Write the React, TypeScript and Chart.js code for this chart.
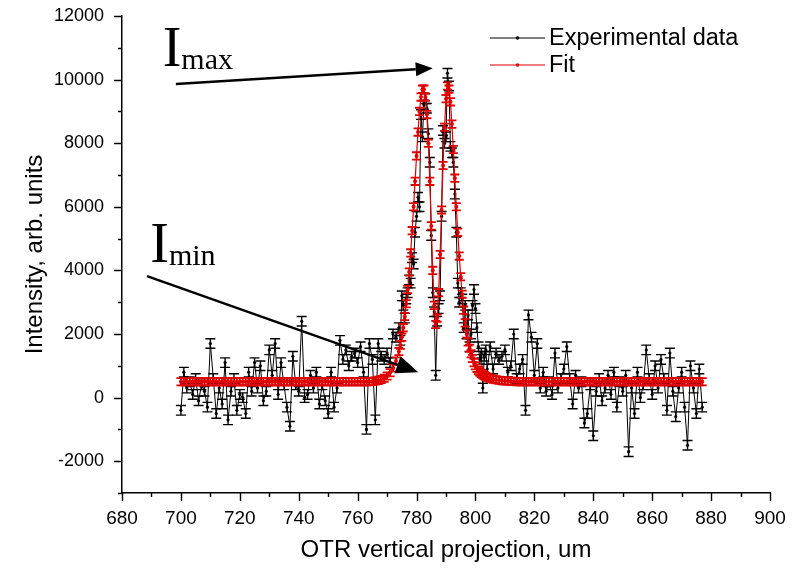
import { useEffect, useRef } from 'react';
import { Chart, registerables } from 'chart.js';
Chart.register(...registerables);

const SANS = '"Liberation Sans", Arial, sans-serif';
const SERIF = '"Liberation Serif", "Times New Roman", serif';

// x positions (um)
const xPositions = [
  700, 701, 702, 703, 704, 705, 706, 707, 708, 709,
  710, 711, 712, 713, 714, 715, 716, 717, 718, 719,
  720, 721, 722, 723, 724, 725, 726, 727, 728, 729,
  730, 731, 732, 733, 734, 735, 736, 737, 738, 739,
  740, 741, 742, 743, 744, 745, 746, 747, 748, 749,
  750, 751, 752, 753, 754, 755, 756, 757, 758, 759,
  760, 761, 762, 763, 764, 765, 766, 767, 768, 769,
  770, 771, 772, 773,
  774, 774.5, 775, 775.5, 776, 776.5, 777, 777.5, 778, 778.5,
  779, 779.5, 780, 780.5, 781, 781.5, 782, 782.5, 783, 783.5,
  784, 784.5, 785, 785.5, 786, 786.5, 787, 787.5, 788, 788.5,
  789, 789.5, 790, 790.5, 791, 791.5, 792, 792.5, 793, 793.5,
  794, 794.5, 795, 795.5, 796, 796.5, 797, 797.5, 798, 798.5,
  799, 799.5, 800, 800.5, 801, 801.5, 802, 802.5, 803, 803.5,
  804,
  805, 806, 807, 808, 809, 810, 811, 812, 813, 814,
  815, 816, 817, 818, 819, 820, 821, 822, 823, 824,
  825, 826, 827, 828, 829, 830, 831, 832, 833, 834,
  835, 836, 837, 838, 839, 840, 841, 842, 843, 844,
  845, 846, 847, 848, 849, 850, 851, 852, 853, 854,
  855, 856, 857, 858, 859, 860, 861, 862, 863, 864,
  865, 866, 867, 868, 869, 870, 871, 872, 873, 874,
  875, 876, 877,
];

// Experimental intensity
const experimental = [
  -400, 800, 300, 500, 100, 600, -100, 400, 200, -300,
  1700, 600, -500, 300, -200, 1100, -700, 200, 600, -400,
  100, 0, -500, 800, 200, 1100, 300, 1000, -100, 200,
  1500, 700, 1700, 100, 1100, 400, -300, -900, 1300, 400,
  200, 2400, 0, 100, 700, 300, 800, -200, 400, -100,
  -500, 800, -300, 300, 1800, 1200, 1500, 1000, 1300, 1400,
  1100, 1600, 800, -1000, 1700, 1200, -700, 1700, 1300, 1200,
  1400, 1100, 2000, 1900,
  2200, 1800, 3200, 2900, 2500, 3100, 3300, 3700, 3600, 4400,
  4200, 5200, 5700, 6300, 6000, 8900, 8200, 9200, 9400, 9100,
  8300, 7400, 5100, 3300, 2700, 700, 2400, 2800, 3200, 5700,
  8400, 8000, 8200, 10200, 9800, 7900, 7700, 7400, 6400, 5200,
  3600, 3000, 3300, 3100, 2200, 2900, 2000, 2600, 1600, 2000,
  2900, 3400, 2800, 2200, 1600, 1200, 1400, 300, 1300, 1500,
  900,
  1600, 900, 1400, 1200, 1300, 1500, 800, 1000, 2000, 600,
  900, 1200, -400, 2600, 1900, 700, 1700, 300, 800, 200,
  500, 100, 1400, 300, 600, 900, 1600, 600, -200, 700,
  300, 500, -800, -500, 400, -1200, 200, 600, -100, 300,
  700, 100, 800, -300, 500, 200, 700, -1700, 300, -500,
  800, 0, 400, 1500, 600, 100, 1000, 300, 1200, 600,
  -400, 1400, 200, -600, 300, 800, -300, -1500, 1000, 300,
  -500, 900, -300,
];

// Fit curve
const fit = [
  500, 500, 500, 500, 500, 500, 500, 500, 500, 500,
  500, 500, 500, 500, 500, 500, 500, 500, 500, 500,
  500, 500, 500, 500, 500, 500, 500, 500, 500, 500,
  500, 500, 500, 500, 500, 500, 500, 500, 500, 500,
  500, 500, 500, 500, 500, 500, 500, 500, 500, 500,
  500, 500, 500, 500, 500, 500, 500, 500, 500, 500,
  500, 500, 500, 500, 500, 510, 520, 540, 570, 610,
  680, 780, 930, 1150,
  1450, 1650, 1900, 2200, 2550, 2950, 3400, 3950, 4550, 5250,
  6000, 6800, 7600, 8350, 9000, 9450, 9700, 9700, 9450, 8900,
  8000, 6800, 5400, 4000, 2900, 2300, 2500, 3300, 4500, 5900,
  7300, 8500, 9400, 9800, 9700, 9300, 8600, 7800, 6900, 6000,
  5200, 4450, 3800, 3250, 2750, 2350, 2000, 1750, 1550, 1380,
  1230, 1100, 1000, 920, 850, 800, 760, 720, 690, 660,
  640,
  610, 580, 560, 545, 535, 525, 520, 515, 510, 500,
  500, 500, 500, 500, 500, 500, 500, 500, 500, 500,
  500, 500, 500, 500, 500, 500, 500, 500, 500, 500,
  500, 500, 500, 500, 500, 500, 500, 500, 500, 500,
  500, 500, 500, 500, 500, 500, 500, 500, 500, 500,
  500, 500, 500, 500, 500, 500, 500, 500, 500, 500,
  500, 500, 500, 500, 500, 500, 500, 500, 500, 500,
  500, 500, 500,
];

const experimentalError = 150;
const fitError = 115;

const xMajorTicks = [680, 700, 720, 740, 760, 780, 800, 820, 840, 860, 880, 900];
const xMinorTicks = [690, 710, 730, 750, 770, 790, 810, 830, 850, 870, 890];
const yMajorTicks = [-2000, 0, 2000, 4000, 6000, 8000, 10000, 12000];
const yMinorTicks = [-3000, -1000, 1000, 3000, 5000, 7000, 9000, 11000];

// annotation anchors in data units
const imaxLabel = { x: 693.8, y: 10420 };
const imaxArrow = { from: { x: 698.3, y: 9860 }, to: { x: 785.5, y: 10360 } };
const iminLabel = { x: 689.6, y: 4250 };
const iminArrow = { from: { x: 688.5, y: 3820 }, to: { x: 780.6, y: 800 } };

const errorBarsPlugin = {
  id: 'errorBars',
  afterDatasetDraw(chart: any, args: any) {
    const ds = chart.data.datasets[args.index];
    const err = ds.errorSize;
    if (!err) return;
    const { ctx, chartArea } = chart;
    const y = chart.scales.y;
    ctx.save();
    ctx.beginPath();
    ctx.rect(chartArea.left, chartArea.top, chartArea.right - chartArea.left, chartArea.bottom - chartArea.top);
    ctx.clip();
    ctx.strokeStyle = ds.borderColor;
    ctx.lineWidth = ds.errorWidth;
    const cap = ds.capHalf;
    args.meta.data.forEach((pt: any, i: number) => {
      const v = ds.data[i].y;
      const t = y.getPixelForValue(v + err);
      const b = y.getPixelForValue(v - err);
      ctx.beginPath();
      ctx.moveTo(pt.x, t);
      ctx.lineTo(pt.x, b);
      ctx.moveTo(pt.x - cap, t);
      ctx.lineTo(pt.x + cap, t);
      ctx.moveTo(pt.x - cap, b);
      ctx.lineTo(pt.x + cap, b);
      ctx.stroke();
    });
    ctx.restore();
  },
};

const axisTicksPlugin = {
  id: 'axisTicks',
  afterDraw(chart: any) {
    const { ctx, chartArea } = chart;
    const { x, y } = chart.scales;
    ctx.save();
    ctx.strokeStyle = '#000';
    ctx.lineWidth = 1.4;
    ctx.beginPath();
    yMajorTicks.forEach((v) => {
      const p = Math.round(y.getPixelForValue(v)) + 0.5;
      ctx.moveTo(chartArea.left - 8, p);
      ctx.lineTo(chartArea.left, p);
    });
    yMinorTicks.forEach((v) => {
      const p = Math.round(y.getPixelForValue(v)) + 0.5;
      ctx.moveTo(chartArea.left - 4, p);
      ctx.lineTo(chartArea.left, p);
    });
    xMajorTicks.forEach((v) => {
      const p = Math.round(x.getPixelForValue(v)) + 0.5;
      ctx.moveTo(p, chartArea.bottom);
      ctx.lineTo(p, chartArea.bottom + 8);
    });
    xMinorTicks.forEach((v) => {
      const p = Math.round(x.getPixelForValue(v)) + 0.5;
      ctx.moveTo(p, chartArea.bottom);
      ctx.lineTo(p, chartArea.bottom + 4);
    });
    ctx.stroke();
    ctx.restore();
  },
};

function drawArrow(ctx: CanvasRenderingContext2D, x1: number, y1: number, x2: number, y2: number, head: number, half: number) {
  const ang = Math.atan2(y2 - y1, x2 - x1);
  const bx = x2 - head * Math.cos(ang);
  const by = y2 - head * Math.sin(ang);
  ctx.beginPath();
  ctx.moveTo(x1, y1);
  ctx.lineTo(bx, by);
  ctx.stroke();
  ctx.beginPath();
  ctx.moveTo(x2, y2);
  ctx.lineTo(bx + half * Math.sin(ang), by - half * Math.cos(ang));
  ctx.lineTo(bx - half * Math.sin(ang), by + half * Math.cos(ang));
  ctx.closePath();
  ctx.fill();
}

const annotationsPlugin = {
  id: 'annotations',
  afterDraw(chart: any) {
    const { ctx } = chart;
    const { x, y } = chart.scales;
    ctx.save();
    ctx.fillStyle = '#000';
    ctx.strokeStyle = '#000';
    ctx.lineWidth = 2.5;
    const label = (pos: { x: number; y: number }, sub: string) => {
      const px = x.getPixelForValue(pos.x);
      const py = y.getPixelForValue(pos.y);
      ctx.textBaseline = 'alphabetic';
      ctx.textAlign = 'left';
      ctx.font = `56px ${SERIF}`;
      ctx.fillText('I', px, py);
      const w = ctx.measureText('I').width;
      ctx.font = `30px ${SERIF}`;
      ctx.fillText(sub, px + w, py + 3);
    };
    label(imaxLabel, 'max');
    label(iminLabel, 'min');
    drawArrow(ctx, x.getPixelForValue(imaxArrow.from.x), y.getPixelForValue(imaxArrow.from.y),
      x.getPixelForValue(imaxArrow.to.x), y.getPixelForValue(imaxArrow.to.y), 17, 7);
    drawArrow(ctx, x.getPixelForValue(iminArrow.from.x), y.getPixelForValue(iminArrow.from.y),
      x.getPixelForValue(iminArrow.to.x), y.getPixelForValue(iminArrow.to.y), 22, 9);
    ctx.restore();
  },
};

const legendPlugin = {
  id: 'customLegend',
  afterDraw(chart: any) {
    const { ctx, chartArea } = chart;
    const entries = [
      { label: 'Experimental data', color: '#000' },
      { label: 'Fit', color: '#e00000' },
    ];
    ctx.save();
    const x0 = chartArea.right - 280;
    entries.forEach((e, i) => {
      const yy = chartArea.top + 22 + i * 27;
      ctx.strokeStyle = e.color;
      ctx.lineWidth = 1.2;
      ctx.beginPath();
      ctx.moveTo(x0, yy);
      ctx.lineTo(x0 + 55, yy);
      ctx.stroke();
      ctx.fillStyle = e.color;
      ctx.beginPath();
      ctx.arc(x0 + 27.5, yy, 1.8, 0, Math.PI * 2);
      ctx.fill();
      ctx.fillStyle = '#000';
      ctx.font = `23.5px ${SANS}`;
      ctx.textBaseline = 'middle';
      ctx.textAlign = 'left';
      ctx.fillText(e.label, x0 + 59, yy + 1);
    });
    ctx.restore();
  },
};

export default function App() {
  const ref = useRef<HTMLCanvasElement>(null);
  useEffect(() => {
    document.body.style.margin = '0';
    const canvas = ref.current;
    if (!canvas) return;
    const n = Math.min(xPositions.length, experimental.length, fit.length);
    const expData = [];
    const fitData = [];
    for (let i = 0; i < n; i++) {
      expData.push({ x: xPositions[i], y: experimental[i] });
      fitData.push({ x: xPositions[i], y: fit[i] });
    }
    const chart = new Chart(canvas, {
      type: 'line',
      data: {
        datasets: [
          {
            label: 'Experimental data',
            data: expData,
            borderColor: '#000',
            backgroundColor: '#000',
            borderWidth: 1,
            pointRadius: 1.6,
            pointBorderWidth: 0,
            tension: 0,
            order: 1,
            errorSize: experimentalError,
            errorWidth: 1.4,
            capHalf: 5,
          } as any,
          {
            label: 'Fit',
            data: fitData,
            borderColor: '#e00000',
            backgroundColor: '#e00000',
            borderWidth: 1.2,
            pointRadius: 2,
            pointBorderWidth: 0,
            tension: 0,
            order: 0,
            errorSize: fitError,
            errorWidth: 1.8,
            capHalf: 4.5,
          } as any,
        ],
      },
      options: {
        responsive: false,
        animation: false,
        layout: { padding: { left: 0, right: 30, top: 16, bottom: 0 } },
        plugins: { legend: { display: false }, tooltip: { enabled: false } },
        scales: {
          x: {
            type: 'linear',
            min: 680,
            max: 900,
            afterBuildTicks: (s: any) => { s.ticks = xMajorTicks.map((v) => ({ value: v })); },
            afterFit: (s: any) => { s.height = 76; s.paddingLeft = 0; s.paddingRight = 0; },
            grid: { display: true, drawOnChartArea: false, drawTicks: false },
            border: { display: true, color: '#000', width: 1.5 },
            ticks: {
              color: '#000', font: { family: SANS, size: 19 }, padding: 14, maxRotation: 0, autoSkip: false,
              callback: (v: any) => String(v),
            },
            title: {
              display: true,
              text: 'OTR vertical projection, um',
              color: '#000',
              font: { family: SANS, size: 24 },
              padding: { top: 0, bottom: 4 },
            },
          },
          y: {
            type: 'linear',
            min: -3000,
            max: 12000,
            afterBuildTicks: (s: any) => { s.ticks = yMajorTicks.map((v) => ({ value: v })); },
            afterFit: (s: any) => { s.width = 122; s.paddingTop = 0; s.paddingBottom = 0; },
            grid: { display: true, drawOnChartArea: false, drawTicks: false },
            border: { display: true, color: '#000', width: 1.5 },
            ticks: {
              color: '#000', font: { family: SANS, size: 18 }, padding: 18, autoSkip: false,
              callback: (v: any) => String(v),
            },
            title: {
              display: true,
              text: 'Intensity, arb. units',
              color: '#000',
              font: { family: SANS, size: 24 },
              padding: { top: 21, bottom: 0 },
            },
          },
        },
      },
      plugins: [errorBarsPlugin, axisTicksPlugin, annotationsPlugin, legendPlugin],
    });
    return () => chart.destroy();
  }, []);
  return <canvas ref={ref} width={800} height={569} style={{ display: 'block' }} />;
}
